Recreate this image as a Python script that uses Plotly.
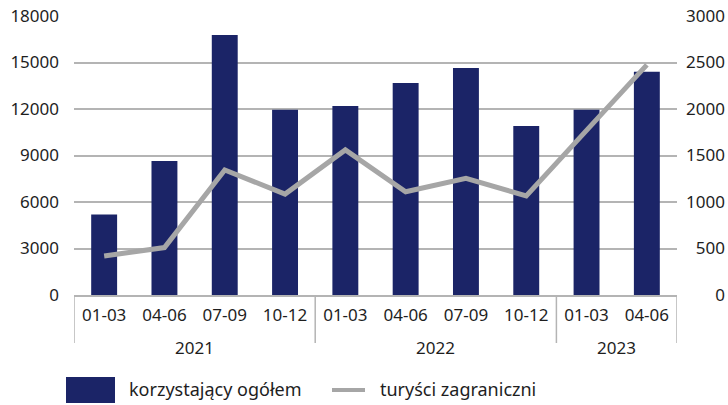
import plotly.graph_objects as go

years = ["2021"] * 4 + ["2022"] * 4 + ["2023"] * 2
quarters = ["01-03", "04-06", "07-09", "10-12",
            "01-03", "04-06", "07-09", "10-12",
            "01-03", "04-06"]
korzystajacy = [5200, 8650, 16780, 11950, 12200, 13680, 14650, 10900, 11950, 14400]
turysci = [420, 510, 1345, 1085, 1560, 1110, 1255, 1065, 1770, 2475]

left_ticks = [0, 3000, 6000, 9000, 12000, 15000, 18000]
right_ticks = [0, 500, 1000, 1500, 2000, 2500, 3000]
FS = "\u2007"
right_text = [FS * (4 - len(str(v))) + str(v) for v in right_ticks]

BAR = "#1B2467"
LINE = "#A6A6A6"
GRID = "#B4B4B4"
TXT = "#1E1E1E"
FONT = "Noto Sans"

idx = list(range(len(quarters)))

fig = go.Figure()
fig.add_trace(go.Bar(x=idx, y=korzystajacy, name="korzystający ogółem",
                     marker=dict(color=BAR, line=dict(width=0)), showlegend=False))
fig.add_trace(go.Scatter(x=idx, y=turysci, name="turyści zagraniczni",
                         mode="lines", line=dict(color=LINE, width=5), yaxis="y2",
                         showlegend=False))

L, R, T, B = 74, 51, 16, 110
W, H = 728, 405
pw, ph = W - L - R, H - T - B

def px_x(p):
    return (p - L) / pw

def px_y(p):
    return (H - B - p) / ph

# year groups from data
groups = []
for i, y in enumerate(years):
    if not groups or groups[-1][0] != y:
        groups.append([y, i, i])
    else:
        groups[-1][2] = i

shapes = []
bounds = sorted({g[1] - 0.5 for g in groups} | {g[2] + 0.5 for g in groups})
for b in bounds:
    shapes.append(dict(type="line", xref="x", yref="paper", x0=b, x1=b,
                       y0=0, y1=px_y(343), line=dict(color=GRID, width=1.5)))

annotations = []
for y, a, b in groups:
    annotations.append(dict(text=y, xref="x", yref="paper", x=(a + b) / 2, y=px_y(347),
                            xanchor="center", yanchor="middle", showarrow=False,
                            font=dict(size=17, color=TXT)))

shapes += [
    dict(type="rect", xref="paper", yref="paper",
         x0=px_x(66), x1=px_x(115), y0=px_y(403), y1=px_y(377),
         fillcolor=BAR, line=dict(width=0)),
    dict(type="line", xref="paper", yref="paper",
         x0=px_x(332), x1=px_x(365), y0=px_y(390), y1=px_y(390),
         line=dict(color=LINE, width=4)),
]
annotations += [
    dict(text="korzystający ogółem", xref="paper", yref="paper", x=px_x(127), y=px_y(389),
         xanchor="left", yanchor="middle", showarrow=False, font=dict(size=18, color=TXT)),
    dict(text="turyści zagraniczni", xref="paper", yref="paper", x=px_x(378), y=px_y(389),
         xanchor="left", yanchor="middle", showarrow=False, font=dict(size=18, color=TXT)),
]

fig.update_layout(
    width=W, height=H,
    margin=dict(l=L, r=R, t=T, b=B, autoexpand=False),
    paper_bgcolor="white", plot_bgcolor="white",
    font=dict(family=FONT, size=17, color=TXT),
    bargap=0.57,
    hovermode=False,
    shapes=shapes, annotations=annotations,
    xaxis=dict(range=[-0.5, len(quarters) - 0.5], tickvals=idx, ticktext=quarters,
               showline=True, linecolor=GRID, linewidth=1.5, automargin=False,
               ticks="", ticklabelstandoff=4, tickfont=dict(size=17, color=TXT),
               showgrid=False, zeroline=False),
    yaxis=dict(range=[0, 18000], tickvals=left_ticks, ticktext=[str(v) for v in left_ticks],
               showgrid=True, gridcolor=GRID, gridwidth=1.5, zeroline=False, automargin=False,
               showline=False, ticks="", ticklabelstandoff=14,
               tickfont=dict(size=17, color=TXT)),
    yaxis2=dict(range=[0, 3000], overlaying="y", side="right", tickvals=right_ticks,
                ticktext=right_text, showgrid=False, zeroline=False, showline=False,
                automargin=False, ticks="", ticklabelstandoff=8,
                tickfont=dict(size=17, color=TXT)),
)

fig.write_html("out.html", config={"displayModeBar": False},
               post_script="document.body.style.margin='0';")
